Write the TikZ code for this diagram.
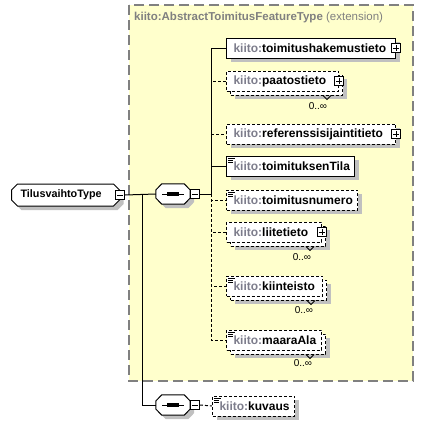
\documentclass[tikz,border=0pt]{standalone}
\usepackage{fontspec}
\setmainfont{Liberation Sans}
\usetikzlibrary{shapes.misc,shadows}
\definecolor{extfill}{RGB}{255,255,204}
\definecolor{extline}{RGB}{128,128,128}
\definecolor{nsgray}{RGB}{125,125,140}
\definecolor{shade}{RGB}{192,192,192}
\newcommand{\kiito}[1]{{\color{nsgray}kiito:}#1}
\newcommand{\docicon}[1]{\draw[line width=.7pt] ([shift={(2,2.5)}]#1.north west) -- ++(7,0) ++(-7,2) -- ++(5,0) ++(-5,2) -- ++(5,0);}
\newcommand{\octagon}[2]{\path[#2] ([shift={(0,-4)}]#1.west) -- ([shift={(6,0)}]#1.north west) -- ([shift={(-6,0)}]#1.north east)
  -- ([shift={(0,-4)}]#1.east) -- ([shift={(0,4)}]#1.east) -- ([shift={(-6,0)}]#1.south east) -- ([shift={(6,0)}]#1.south west)
  -- ([shift={(0,4)}]#1.west) -- cycle;}
\newcommand{\seqsym}[1]{%
  \octagon{#1}{fill=shade, transform canvas={xshift=4pt, yshift=-4pt}}
  \octagon{#1}{draw, fill=white, line width=1pt}
  \draw[line width=1pt] ([shift={(-11,0)}]#1.center) -- ([shift={(11,0)}]#1.center);
  \foreach \d in {-4,0,4} \fill ([shift={(\d,0)}]#1.center) +(-1.6,-1.6) rectangle +(1.6,1.6);}
\tikzset{
  shaded/.style={drop shadow={fill=shade, opacity=1, shadow xshift=4pt, shadow yshift=-4pt}},
  elem/.style={draw, fill=white, anchor=west, minimum height=20pt, inner xsep=7pt, inner ysep=0pt,
    text width=#1, align=left, line width=1pt, font=\bfseries\fontsize{12}{14}\selectfont},
  opt/.style={dash pattern=on 3pt off 2pt},
  mult/.style={font=\fontsize{10}{12}\selectfont, inner sep=0pt},
  plusbox/.style={draw, fill=white, minimum size=9pt, inner sep=0pt, line width=.8pt,
    path picture={\draw ([xshift=1.5pt]path picture bounding box.west) -- ([xshift=-1.5pt]path picture bounding box.east)
      ([yshift=-1.5pt]path picture bounding box.north) -- ([yshift=1.5pt]path picture bounding box.south);}},
  minusbox/.style={draw, fill=white, minimum size=9pt, inner sep=0pt, line width=.8pt,
    path picture={\draw ([xshift=1.5pt]path picture bounding box.west) -- ([xshift=-1.5pt]path picture bounding box.east);}},
  seq/.style={minimum width=34pt, minimum height=20pt, inner sep=0pt},
  root/.style={draw, fill=white, anchor=west, chamfered rectangle, chamfered rectangle xsep=3pt, chamfered rectangle ysep=3pt,
    minimum height=22pt, inner xsep=6pt, inner ysep=0pt, text width=#1, align=left, line width=1pt, shaded,
    font=\bfseries\fontsize{10.8}{13}\selectfont},
  extbox/.style={draw=extline, fill=extfill, line width=1.3pt, dash pattern=on 10pt off 5pt}
}
\begin{document}
\begin{tikzpicture}[x=1pt, y=-1pt]
\fill[white] (0,0) rectangle (432,424);
\useasboundingbox (0,0) rectangle (432,424);
% extension
\draw[extbox] (129,5) rectangle (413,381);
\node[anchor=west, text=extline, font=\fontsize{11.5}{13}\selectfont, inner sep=0pt] (exttitle) at (134,18)
  {\textbf{kiito:AbstractToimitusFeatureType} (extension)};

% type and sequences
\node[root=90] (root) at (11,195) {TilusvaihtoType};
\node[minusbox] (rootm) at (root.east) {};
\node[seq] (seq1) at (173,194) {};
\seqsym{seq1}
\node[minusbox, anchor=west] (seq1m) at (seq1.east) {};
\node[seq] (seq2) at (173,405) {};
\seqsym{seq2}
\node[minusbox, anchor=west] (seq2m) at (seq2.east) {};

% elements
\node[elem=155, shaded] (hakemus) at (226,48) {\kiito{toimitushakemustieto}};
\node[plusbox] (hakemusp) at (hakemus.east) {};

\node[elem=98, opt, shaded] (paatosB) at (230,85) {};
\node[elem=98, opt] (paatos) at (226,81) {\kiito{paatostieto}};
\node[plusbox] (paatosp) at (paatos.east) {};
\draw[line width=.8pt] ([shift={(-20,0)}]paatosB.south east) -- ++(4,4) -- ++(4,-4);
\node[mult] (paatosn) at (318,106) {0..∞};

\node[elem=155, opt, shaded] (refsij) at (226,134) {\kiito{referenssisijaintitieto}};
\node[plusbox] (refsijp) at (refsij.east) {};

\node[elem=114, shaded] (tila) at (226,166) {\kiito{toimituksenTila}};
\docicon{tila}

\node[elem=117, opt, shaded] (numero) at (226,200) {\kiito{toimitusnumero}};
\docicon{numero}

\node[elem=81, opt, shaded] (liiteB) at (230,236) {};
\node[elem=81, opt] (liite) at (226,232) {\kiito{liitetieto}};
\node[plusbox] (liitep) at (liite.east) {};
\draw[line width=.8pt] ([shift={(-20,0)}]liiteB.south east) -- ++(4,4) -- ++(4,-4);
\node[mult] (liiten) at (302,257) {0..∞};

\node[elem=82, opt, shaded] (kiintB) at (230,290) {};
\node[elem=82, opt] (kiint) at (226,286) {\kiito{kiinteisto}};
\docicon{kiint}
\draw[line width=.8pt] ([shift={(-20,0)}]kiintB.south east) -- ++(4,4) -- ++(4,-4);
\node[mult] (kiintn) at (304,310) {0..∞};

\node[elem=81, opt, shaded] (maaraB) at (230,344) {};
\node[elem=81, opt] (maara) at (226,340) {\kiito{maaraAla}};
\docicon{maara}
\draw[line width=.8pt] ([shift={(-20,0)}]maaraB.south east) -- ++(4,4) -- ++(4,-4);
\node[mult] (maaran) at (303,363) {0..∞};

\node[elem=68, opt, shaded] (kuvaus) at (212,406) {\kiito{kuvaus}};
\docicon{kuvaus}

% connectors
\coordinate (fork) at (142,194);
\coordinate (spine) at (211,194);
\begin{scope}[line width=1pt]
\draw (rootm.east) -- (seq1.west);
\draw (fork) |- (seq2.west);
\draw (seq1m.east) -- (spine);
\draw (spine) |- (hakemus.west);
\draw (spine) |- (tila.west);
\draw[opt] (spine) |- (paatos.west);
\draw[opt] (spine) |- (refsij.west);
\draw[opt] (spine) |- (numero.west);
\draw[opt] (spine) |- (liite.west);
\draw[opt] (spine) |- (kiint.west);
\draw[opt] (spine) |- (maara.west);
\draw[opt] (seq2m.east) -- (kuvaus.west);
\end{scope}
\end{tikzpicture}
\end{document}
